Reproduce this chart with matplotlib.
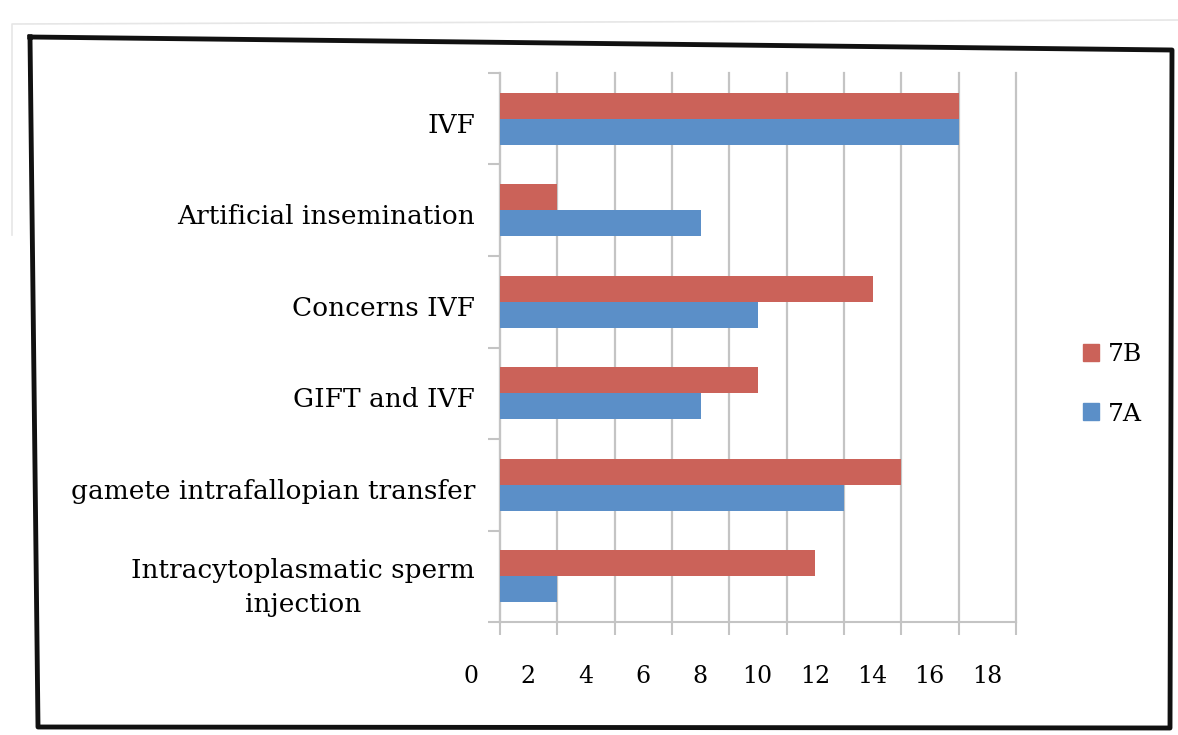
import matplotlib

matplotlib.use("Agg")

import matplotlib.pyplot as plt
import numpy as np
from matplotlib.lines import Line2D
from matplotlib.patches import Patch
from matplotlib.transforms import ScaledTranslation

categories = [
    "IVF",
    "Artificial insemination",
    "Concerns IVF",
    "GIFT and IVF",
    "gamete intrafallopian transfer",
    "Intracytoplasmatic sperm\ninjection",
]
values_7b = [16, 2, 13, 9, 14, 11]
values_7a = [16, 7, 9, 7, 12, 2]
x_ticks = list(range(0, 19, 2))

RED = "#CB6259"
BLUE = "#5B8FC8"
GRID = "#C4C4C4"

plt.rcParams["font.family"] = ["DejaVu Serif"]

fig = plt.figure(figsize=(11.78, 7.35), dpi=100)
ax = fig.add_axes([0.4244, 0.1537, 0.8625 - 0.4244, 0.9007 - 0.1537])

n = len(categories)
y = np.arange(n)[::-1].astype(float)
h = 0.285
ax.barh(y + h / 2, values_7b, height=h, color=RED, label="7B", zorder=3)
ax.barh(y - h / 2, values_7a, height=h, color=BLUE, label="7A", zorder=3)

ax.set_xlim(0, 18)
ax.set_ylim(-0.5, n - 0.5)
ax.set_xticks(x_ticks)
ax.set_xticklabels([str(v) for v in x_ticks], fontsize=17)
ax.xaxis.grid(True, color=GRID, linewidth=1.6, zorder=0)
for gl in ax.get_xgridlines():
    gl.set_clip_on(False)

ax.set_yticks(y)
ax.set_yticklabels(categories, fontsize=19, ha="right", multialignment="center",
                   linespacing=1.45)
ax.tick_params(axis="y", length=0, pad=18)
ax.set_yticks(np.arange(-0.5, n, 1.0), minor=True)
ax.tick_params(axis="y", which="minor", length=9, width=1.5, color=GRID)
ax.tick_params(axis="x", length=9, width=1.5, color=GRID, pad=22)

for lbl in ax.get_xticklabels():
    lbl.set_transform(lbl.get_transform() + ScaledTranslation(-0.29, 0, fig.dpi_scale_trans))
for lbl in ax.get_yticklabels():
    lbl.set_transform(lbl.get_transform() + ScaledTranslation(0, -0.04, fig.dpi_scale_trans))

for side in ["top", "right"]:
    ax.spines[side].set_visible(False)
for side in ["left", "bottom"]:
    ax.spines[side].set_color(GRID)
    ax.spines[side].set_linewidth(1.5)

handles = [Patch(color=RED, label="7B"), Patch(color=BLUE, label="7A")]
fig.legend(handles=handles, loc="center left", bbox_to_anchor=(0.9, 0.477),
           frameon=False, fontsize=18, handlelength=0.65, handleheight=0.65,
           handletextpad=0.35, labelspacing=1.45)

# document frame (slightly skewed, as in the scan)
W, H = 1178, 735
pts = [(30, 37), (1172, 50), (1170, 728), (38, 727), (30, 37)]
fx = [p[0] / W for p in pts]
fy = [1 - p[1] / H for p in pts]
fig.add_artist(Line2D(fx, fy, transform=fig.transFigure, color="#111111", linewidth=3.5))
shadow = [(12, 235), (12, 24), (1178, 20)]
fig.add_artist(Line2D([p[0] / W for p in shadow], [1 - p[1] / H for p in shadow],
                      transform=fig.transFigure, color="#E6E6E6", linewidth=1.2))

fig.savefig("out.png", dpi=100)
